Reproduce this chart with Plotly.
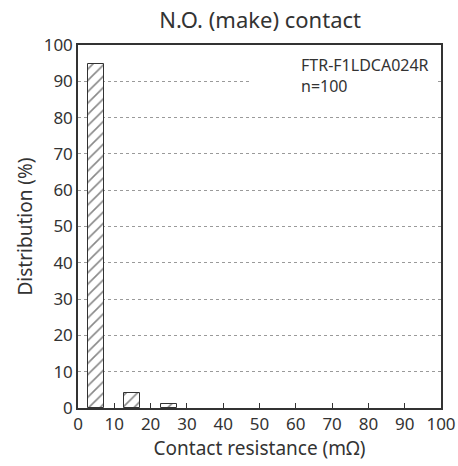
import plotly.graph_objects as go

# Data
bin_centers = [5, 15, 25]
distribution = [94.8, 4.0, 1.2]
x_ticks = [0, 10, 20, 30, 40, 50, 60, 70, 80, 90, 100]
y_ticks = [0, 10, 20, 30, 40, 50, 60, 70, 80, 90, 100]
title_text = "N.O. (make) contact"
x_title = "Contact resistance (mΩ)"
y_title = "Distribution (%)"
note_lines = ["FTR-F1LDCA024R", "n=100"]

FONT = "Noto Sans"
TXT = "#333333"

fig = go.Figure()
fig.add_trace(go.Bar(
    x=bin_centers, y=distribution, width=4.4,
    marker=dict(color="white",
                line=dict(color="#333333", width=1),
                pattern=dict(shape="/", fgcolor="#111111", bgcolor="white",
                             size=8, solidity=0.2)),
    showlegend=False,
))

# white box behind the note text (covers gridline)
fig.add_shape(type="rect", xref="x", yref="y", x0=47.5, x1=98.8, y0=85.5, y1=96.5,
              fillcolor="white", line=dict(width=0), layer="between")
fig.add_annotation(xref="x", yref="y", x=61, y=98.2, xanchor="left", yanchor="top",
                   text="<br>".join(note_lines), showarrow=False, align="left",
                   font=dict(family=FONT, size=16, color=TXT))

fig.update_layout(
    width=458, height=466,
    margin=dict(l=78, r=17, t=45, b=58, autoexpand=False),
    paper_bgcolor="white", plot_bgcolor="white",
    font=dict(family=FONT, size=17, color=TXT),
    title=dict(text=title_text, x=0.568, xanchor="center", y=0.957, yanchor="middle",
               font=dict(family=FONT, size=22, color=TXT)),
    bargap=0,
)
fig.update_xaxes(range=[0, 100], tickvals=x_ticks, ticks="inside", ticklen=5,
                 tickcolor="#333333", showgrid=False, zeroline=False, automargin=False,
                 showline=True, linecolor="#333333", linewidth=1.5, mirror=True,
                 title=dict(text=x_title, standoff=4, font=dict(size=19)),
                 tickfont=dict(size=17))
fig.update_yaxes(range=[0, 100], tickvals=y_ticks, ticks="", showgrid=True, automargin=False,
                 gridcolor="#9a9a9a", gridwidth=1, griddash="3px,3px", zeroline=False,
                 showline=True, linecolor="#333333", linewidth=1.5, mirror=True,
                 title=dict(text=y_title, standoff=6, font=dict(size=19)),
                 tickfont=dict(size=17))

fig.write_html("out.html", config={"displayModeBar": False},
               post_script="document.body.style.margin='0';")
